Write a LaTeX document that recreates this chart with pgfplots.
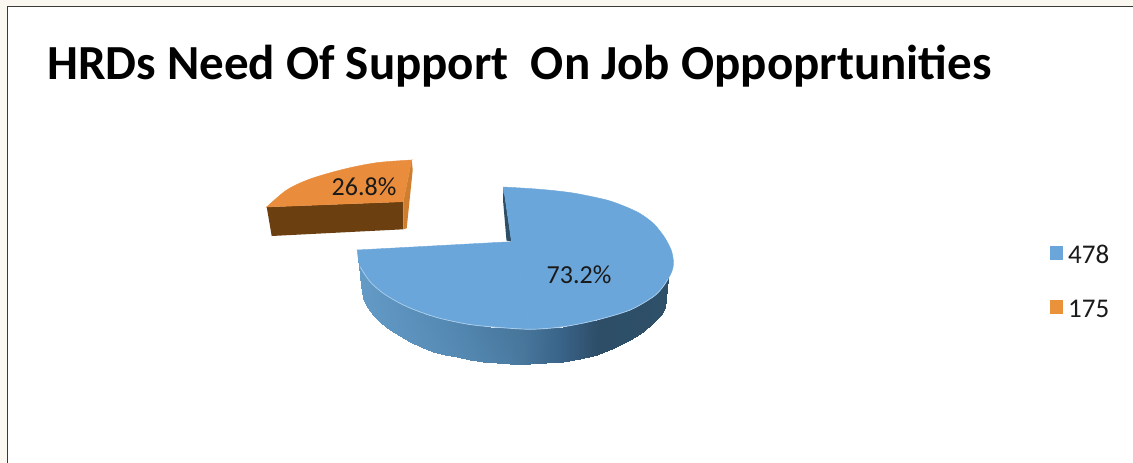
\documentclass[border=0pt]{standalone}
\usepackage{fontspec}
\setmainfont{Carlito}
\usepackage{pgfplots}
\pgfplotsset{compat=1.18}
\definecolor{pageback}{HTML}{FBF8F1}
\definecolor{framecol}{HTML}{3A3A36}
\definecolor{blueface}{HTML}{6AA6DA}
\definecolor{bluedark}{HTML}{2E4E66}
\definecolor{orangeface}{HTML}{E98C3C}
\definecolor{orangefront}{HTML}{6B3F10}
\definecolor{orangeside}{HTML}{CF7E30}
\definecolor{ink}{HTML}{1A1A1A}
\begin{document}
\begin{tikzpicture}
\begin{axis}[
  scale only axis, width=1133pt, height=463pt,
  xmin=0, xmax=1133, ymin=0, ymax=463, y dir=reverse,
  hide axis, clip=true,
  colormap={wall}{rgb255(0cm)=(100,156,200) rgb255(6cm)=(82,134,175) rgb255(9cm)=(72,118,155)
                  rgb255(11cm)=(58,100,138) rgb255(13cm)=(46,78,104) rgb255(17cm)=(47,80,105)},
  point meta min=0, point meta max=170,
]
% page and frame
\addplot[draw=none, fill=pageback] coordinates {(0,0) (1133,0) (1133,463) (0,463)} --cycle;
\addplot[draw=none, fill=framecol] coordinates {(7,6) (1133,6) (1133,463) (7,463)} --cycle;
\addplot[draw=none, fill=white] coordinates {(8,7) (1133,7) (1133,463) (8,463)} --cycle;

% outer wall of the large slice: upper row, then lower row
\addplot[surf, shader=interp, mesh/rows=2, point meta=explicit] table[meta=c] {
x y c
357.5 258 0
358.8 262.4 1.5
360 266.7 3
365 274.2 6
370 281.7 9
376.6 287.5 13
383.3 293.3 17
391.6 298.3 22
400 303.3 27
408.3 307 32
416.7 310.7 37
428.3 314.5 43
440 318.3 49
453.3 321.1 56
466.7 324 64
478.3 325.3 71
490 326.7 78
510 328 86
530 329.3 94
546.6 328 103
563.3 326.7 112
580 323.3 121
596.7 320 130
613.3 315 139
630 310 148
641.6 303.3 154
653.3 296.7 161
661.6 288.3 165
668 278 170
360 275 0
360.7 285.6 1.5
362.7 298.3 3
367.1 307.2 6
373.3 315 9
381.1 322.8 13
390 330 17
399.6 336.2 22
410 341.7 27
421.4 347.1 32
433.3 351.7 37
444.8 354.9 43
456.7 357.3 49
469.8 359.7 56
483.3 361.7 64
497.1 363.1 71
510 364 78
519.6 364.5 86
530 364.3 94
545.8 363.4 103
563.3 361.7 112
580 359.1 121
596.7 355 130
614 348.1 139
630 340 148
643 331.7 154
653.3 323.3 161
660.6 314.8 165
665 308.3 170
};
% inner cut wall of the large slice
\addplot[draw=none, fill=bluedark] coordinates {(503.5,187) (511.5,241.7) (506.5,240.5) (503,200)} --cycle;
% top face of the large slice: back-right arc, front arc, then the middle up to the centre notch
\addplot[draw=blueface, line width=0.4pt, fill=blueface, smooth] coordinates {
(503.5,187) (540,189.3) (573,193) (606.7,200) (625,206.5) (640,213.5) (654,224) (665,238) (671.5,251)
(673.5,263) (672,271) (668,279) (662,288) (653.3,296.7) (630,310) (596.7,320) (563.3,326.7) (530,329.3)} --cycle;
\addplot[draw=blueface, line width=0.4pt, fill=blueface, smooth] coordinates {
(530,329.3) (490,326.7) (466.7,324) (440,318.3) (416.7,310.7) (400,303.3) (383.3,293.3)
(370,281.7) (360,266.7) (357.3,250)} --cycle;
\addplot[draw=blueface, line width=0.4pt, fill=blueface] coordinates {(511.5,241.7) (503.5,187) (530,329.3) (357.3,250)} --cycle;
% pale highlight along the front rim
\addplot[blueface!55!white, line width=0.7pt, smooth] coordinates {
(360,266.7) (370,281.7) (383.3,293.3) (400,303.3) (416.7,310.7) (440,318.3) (466.7,324)
(490,326.7) (530,329.3) (563.3,326.7) (596.7,320) (630,310) (653.3,296.7) (662,288) (668,279)};

% pulled-out slice: walls, then top face
\addplot[draw=none, fill=orangefront] coordinates {(266.7,207) (403.3,201.7) (403.3,229.3) (271.7,236)} --cycle;
\addplot[draw=none, fill=orangeside] coordinates {(411.7,160) (403.3,201.7) (403.3,229.3) (406.7,228.3) (412.7,170)} --cycle;
\addplot[draw=orangeface, line width=0.4pt, fill=orangeface, smooth] coordinates {
(411.7,160) (376.7,162.7) (343.3,169.3) (310,179) (286.7,190) (266.7,207)} --cycle;
\addplot[draw=orangeface, line width=0.4pt, fill=orangeface] coordinates {(403.3,201.7) (411.7,160) (266.7,207)} --cycle;

% legend swatches
\addplot[draw=none, fill=blueface] coordinates {(1049.5,246) (1062.5,246) (1062.5,260) (1049.5,260)} --cycle;
\addplot[draw=none, fill=orangeface!95!yellow] coordinates {(1049.5,300) (1062.5,300) (1062.5,313.5) (1049.5,313.5)} --cycle;

% text
\node[anchor=base west, font=\fontsize{49}{49}\selectfont\bfseries, text=black, inner sep=0pt]
  at (axis cs:47,79.5) {HRDs Need Of Support\ \ On Job Oppoprtunities};
\node[font=\fontsize{26}{26}\selectfont, text=ink, inner sep=0pt] at (axis cs:579,275) {73.2\%};
\node[font=\fontsize{26}{26}\selectfont, text=ink, inner sep=0pt] at (axis cs:364,187) {26.8\%};
\node[anchor=base west, font=\fontsize{27}{27}\selectfont, text=ink, inner sep=0pt] at (axis cs:1068,263) {478};
\node[anchor=base west, font=\fontsize{27}{27}\selectfont, text=ink, inner sep=0pt] at (axis cs:1068,317) {175};
\end{axis}
\end{tikzpicture}
\end{document}
